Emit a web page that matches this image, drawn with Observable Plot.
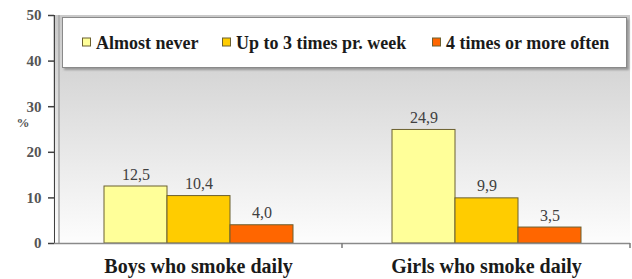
<!DOCTYPE html>
<html>
<head>
<meta charset="utf-8">
<script src="https://cdn.jsdelivr.net/npm/d3@7"></script>
<script src="https://cdn.jsdelivr.net/npm/@observablehq/plot@0.6"></script>
<style>
  html, body { margin: 0; padding: 0; background: #fff; }
  #wrap { position: relative; width: 632px; height: 279px; }
</style>
</head>
<body>
<div id="wrap"></div>
<script>
const categories = ["Boys who smoke daily", "Girls who smoke daily"];
const series = ["Almost never", "Up to 3 times pr. week", "4 times or more often"];
const boys = [12.5, 10.4, 4.0];
const girls = [24.9, 9.9, 3.5];
const yTicks = [0, 10, 20, 30, 40, 50];
const colors = ["#FFFF99", "#FFCC00", "#FF6600"];

const rows = categories.flatMap((c, i) =>
  series.map((s, j) => ({category: c, series: s, value: [boys, girls][i][j]})));
const fmt = d => d.value.toFixed(1).replace(".", ",");

const chart = Plot.plot({
  width: 632, height: 279,
  marginLeft: 53, marginRight: 2, marginTop: 15, marginBottom: 36,
  style: {fontFamily: "Liberation Serif", fontSize: "13px", color: "#404040", background: "transparent", overflow: "visible"},
  fx: {domain: categories, padding: 0, label: null, axis: "bottom", tickSize: 0, tickPadding: 15},
  x: {domain: series, paddingInner: 0, paddingOuter: 0.76, axis: null},
  y: {domain: [0, 50], ticks: yTicks, tickSize: 6, tickPadding: 7, label: null, line: true},
  color: {domain: series, range: colors},
  marks: [
    Plot.barY(rows, {fx: "category", x: "series", y: "value", fill: "series", stroke: "#6b6030", strokeWidth: 1}),
    Plot.text(rows, {fx: "category", x: "series", y: "value", text: fmt, lineAnchor: "bottom", dy: -7, fill: "#404040", fontSize: 16}),
    Plot.ruleY([0], {stroke: "#8a8a8a", strokeWidth: 1.5})
  ]
});

const svg = d3.select(chart);
svg.insert("defs", ":first-child").html(
  `<linearGradient id="plotbg" x1="0" y1="0" x2="0" y2="1">
     <stop offset="0" stop-color="#c9c9c9"/>
     <stop offset="1" stop-color="#fdfdfd"/>
   </linearGradient>
   <filter id="shadow" x="-5%" y="-20%" width="110%" height="140%">
     <feDropShadow dx="2" dy="2" stdDeviation="0.8" flood-color="#888" flood-opacity="0.8"/>
   </filter>`);

const fxs = chart.scale("fx"), ys = chart.scale("y");
const y0 = ys.apply(0), yTop = ys.apply(50);
const xL = fxs.range[0], xR = fxs.range[1];

// plot-area background (one rect spanning both facets) + back-wall edge
const bg = svg.insert("g", "defs + *");
bg.append("rect").attr("x", xL).attr("y", yTop).attr("width", xR - xL).attr("height", y0 - yTop).attr("fill", "url(#plotbg)");
bg.append("line").attr("x1", xL + 6).attr("x2", xL + 6).attr("y1", yTop).attr("y2", y0)
  .attr("stroke", "#a8a8a8").attr("stroke-width", 1.5);

// text styling
svg.selectAll("text").attr("font-family", "Liberation Serif");
svg.selectAll('g[aria-label="fx-axis tick label"]').attr("fill", "#1a1a1a").attr("font-weight", "bold").attr("font-size", 20);
svg.selectAll('g[aria-label="fx-axis tick label"] text').attr("font-weight", "bold").attr("font-size", 20).attr("fill", "#1a1a1a");
svg.selectAll('g[aria-label="y-axis tick label"]').attr("font-size", 15).attr("font-weight", "bold").attr("fill", "#555");
svg.selectAll('g[aria-label="y-axis tick label"] text').attr("font-size", 15).attr("font-weight", "bold").attr("fill", "#555");
svg.selectAll('g[aria-label="y-axis tick"], g[aria-label="y-axis rule"]').attr("stroke", "#7a7a7a").attr("stroke-width", 1.5);

// category boundary ticks from the fx scale
const bounds = categories.map(c => fxs.apply(c)).concat([fxs.apply(categories[categories.length - 1]) + fxs.bandwidth]);
svg.append("g").selectAll("line").data(bounds.slice(1)).join("line")
  .attr("x1", d => d).attr("x2", d => d).attr("y1", y0).attr("y2", y0 + 5)
  .attr("stroke", "#7a7a7a").attr("stroke-width", 1.5);

// % label
svg.append("text").attr("x", 23).attr("y", (ys.apply(30) + ys.apply(20)) / 2 - 2)
  .attr("text-anchor", "middle").attr("font-family", "Liberation Serif").attr("font-weight", "bold")
  .attr("font-size", 13).attr("fill", "#555").text("%");

// legend box inside the plot area (SVG)
const lg = svg.append("g").attr("font-family", "Liberation Serif").attr("font-weight", "bold")
  .attr("font-size", 18).attr("text-anchor", "start");
lg.append("rect").attr("x", xL + 9.5).attr("y", yTop + 2.5).attr("width", 564).attr("height", 50)
  .attr("fill", "#fff").attr("stroke", "#8a8a8a").attr("stroke-width", 1).attr("filter", "url(#shadow)");
const legendX = [82, 222, 432];
const legendY = yTop + 2.5 + 25;
series.forEach((s, i) => {
  lg.append("rect").attr("x", legendX[i] + 0.5).attr("y", legendY - 4.5).attr("width", 8).attr("height", 8)
    .attr("fill", colors[i]).attr("stroke", "#6b6030");
  lg.append("text").attr("x", legendX[i] + 14).attr("y", legendY).attr("dy", "0.35em")
    .attr("text-anchor", "start").attr("fill", "#1a1a1a").text(s);
});

document.getElementById("wrap").appendChild(chart);
</script>
</body>
</html>
